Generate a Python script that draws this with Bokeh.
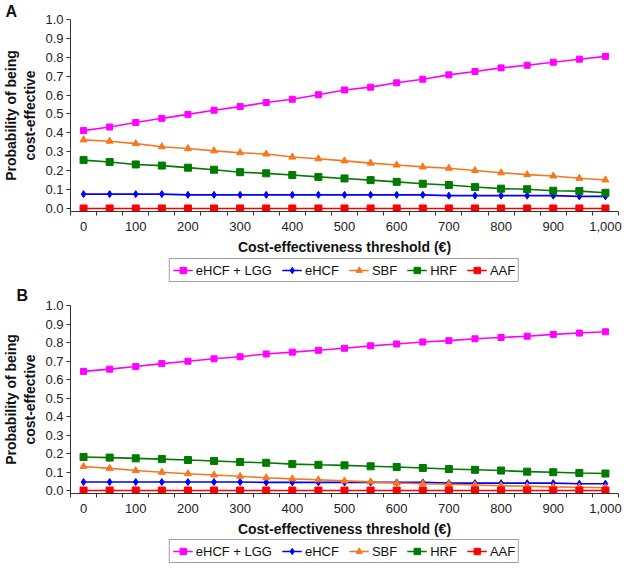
from bokeh.plotting import figure
from bokeh.models import FixedTicker, NumeralTickFormatter, Legend, LegendItem, Range1d, Title
from bokeh.layouts import column
from bokeh.embed import file_html
from bokeh.resources import INLINE

# ---------------- data ----------------
thresholds = list(range(0, 1001, 50))
series_names = ["eHCF + LGG", "eHCF", "SBF", "HRF", "AAF"]

a_ehcf_lgg = [0.412, 0.431, 0.455, 0.477, 0.498, 0.520, 0.539, 0.561, 0.578, 0.602, 0.627,
              0.642, 0.665, 0.684, 0.707, 0.725, 0.744, 0.758, 0.774, 0.790, 0.805]
a_ehcf = [0.076, 0.076, 0.076, 0.076, 0.072, 0.072, 0.072, 0.072, 0.072, 0.072, 0.072,
          0.072, 0.072, 0.072, 0.068, 0.068, 0.068, 0.068, 0.068, 0.064, 0.064]
a_sbf = [0.363, 0.356, 0.343, 0.327, 0.317, 0.305, 0.295, 0.288, 0.272, 0.263, 0.252,
         0.240, 0.230, 0.220, 0.213, 0.201, 0.189, 0.179, 0.172, 0.160, 0.151]
a_hrf = [0.256, 0.246, 0.233, 0.227, 0.216, 0.205, 0.192, 0.186, 0.177, 0.167, 0.159,
         0.150, 0.141, 0.131, 0.124, 0.114, 0.105, 0.102, 0.094, 0.092, 0.083]
a_aaf = [0.0] * 21

b_ehcf_lgg = [0.644, 0.656, 0.670, 0.686, 0.699, 0.712, 0.723, 0.738, 0.748, 0.758, 0.769,
              0.782, 0.792, 0.803, 0.810, 0.820, 0.827, 0.834, 0.844, 0.851, 0.858]
b_ehcf = [0.046, 0.046, 0.046, 0.046, 0.046, 0.046, 0.046, 0.044, 0.044, 0.044, 0.044,
          0.044, 0.044, 0.044, 0.040, 0.040, 0.040, 0.040, 0.040, 0.037, 0.037]
b_sbf = [0.130, 0.120, 0.108, 0.099, 0.091, 0.084, 0.077, 0.069, 0.063, 0.058, 0.052,
         0.047, 0.041, 0.037, 0.034, 0.030, 0.026, 0.023, 0.020, 0.018, 0.015]
b_hrf = [0.181, 0.178, 0.174, 0.170, 0.165, 0.160, 0.154, 0.150, 0.143, 0.139, 0.136,
         0.131, 0.127, 0.122, 0.116, 0.112, 0.108, 0.102, 0.099, 0.095, 0.092]
b_aaf = [0.0] * 21

y_ticks = [0.0, 0.1, 0.2, 0.3, 0.4, 0.5, 0.6, 0.7, 0.8, 0.9, 1.0]
x_ticks = list(range(0, 1001, 100))

# ---------------- styles ----------------
FONT = "Liberation Sans"
styles = [
    dict(color="#FF00FF", marker="square", size=6),
    dict(color="#0000FF", marker="diamond", size=7),
    dict(color="#F7771F", marker="triangle", size=7),
    dict(color="#007A00", marker="square", size=7),
    dict(color="#FF0000", marker="square", size=7),
]


def add_series(p, xs, series):
    items = []
    for name, ys, st in zip(series_names, series, styles):
        lr = p.line(xs, ys, line_color=st["color"], line_width=1.6)
        sr = p.scatter(xs, ys, marker=st["marker"], size=st["size"],
                       fill_color=st["color"], line_color=st["color"])
        items.append(LegendItem(label=name, renderers=[lr, sr]))
    return items


def make_panel(series, height, border_top):
    p = figure(width=626, height=height, x_range=Range1d(-25, 1025), y_range=Range1d(-0.016, 1.0),
               output_backend="svg", toolbar_location=None,
               min_border_top=border_top, min_border_right=8, min_border_left=0, min_border_bottom=0)
    p.grid.visible = False
    p.outline_line_color = None
    add_series(p, thresholds, series)

    ya = p.yaxis[0]
    ya.ticker = FixedTicker(ticks=y_ticks)
    ya.formatter = NumeralTickFormatter(format="0.0")
    ya.axis_label = "Probability of being\ncost-effective"
    ya.axis_label_text_font = FONT
    ya.axis_label_text_font_style = "bold"
    ya.axis_label_text_font_size = "14px"
    ya.axis_label_text_color = "#111111"
    ya.axis_label_standoff = 4
    ya.major_label_text_font = FONT
    ya.major_label_text_font_size = "13px"
    ya.major_label_text_color = "#222222"
    ya.major_label_standoff = 3
    ya.major_tick_out = 4
    ya.major_tick_in = 0
    ya.minor_tick_line_color = None
    ya.axis_line_color = "#333333"
    ya.major_tick_line_color = "#333333"

    xa = p.xaxis[0]
    xa.ticker = FixedTicker(ticks=x_ticks, minor_ticks=list(range(-25, 1026, 50)))
    xa.formatter = NumeralTickFormatter(format="0,0")
    xa.axis_label = "Cost-effectiveness threshold (€)"
    xa.axis_label_text_font = FONT
    xa.axis_label_text_font_style = "bold"
    xa.axis_label_text_font_size = "14px"
    xa.axis_label_text_color = "#111111"
    xa.axis_label_standoff = 5
    xa.major_label_text_font = FONT
    xa.major_label_text_font_size = "13px"
    xa.major_label_text_color = "#222222"
    xa.major_label_standoff = 6
    xa.major_tick_out = 0
    xa.major_tick_in = 0
    xa.minor_tick_out = 4
    xa.minor_tick_in = 0
    xa.minor_tick_line_color = "#333333"
    xa.axis_line_color = "#333333"
    return p


def make_legend_fig(series, height, shift):
    # separate strip holding only the legend; its data lies outside its ranges
    lf = figure(width=626, height=height, x_range=Range1d(5000, 5001), y_range=Range1d(5, 6),
                output_backend="svg", toolbar_location=None,
                x_axis_location=None, y_axis_location=None,
                min_border_left=shift, min_border_right=0, min_border_top=0, min_border_bottom=0)
    lf.grid.visible = False
    lf.outline_line_color = None
    items = add_series(lf, thresholds, series)
    legend = Legend(items=items, orientation="horizontal", location="center",
                    border_line_color="#444444", padding=3, spacing=10, margin=0,
                    glyph_width=20, glyph_height=16, label_height=16, label_standoff=3,
                    label_text_font=FONT, label_text_font_size="13px",
                    label_text_color="#111111")
    lf.add_layout(legend)
    return lf


def panel_letter(letter, offset, standoff):
    return Title(text=letter, text_font=FONT, text_font_style="bold", text_font_size="16px",
                 text_color="#111111", align="left", offset=offset, standoff=standoff)


series_a = [a_ehcf_lgg, a_ehcf, a_sbf, a_hrf, a_aaf]
series_b = [b_ehcf_lgg, b_ehcf, b_sbf, b_hrf, b_aaf]

pa = make_panel(series_a, 257, 0)
pa.add_layout(panel_letter("A", -65, 0), "above")
la = make_legend_fig(series_a, 26, 40)

pb = make_panel(series_b, 256, 0)
pb.add_layout(panel_letter("B", -54, 3), "above")
lb = make_legend_fig(series_b, 24, 40)

layout = column(pa, la, pb, lb, spacing=0)
open("out.html", "w").write(file_html(layout, INLINE))
